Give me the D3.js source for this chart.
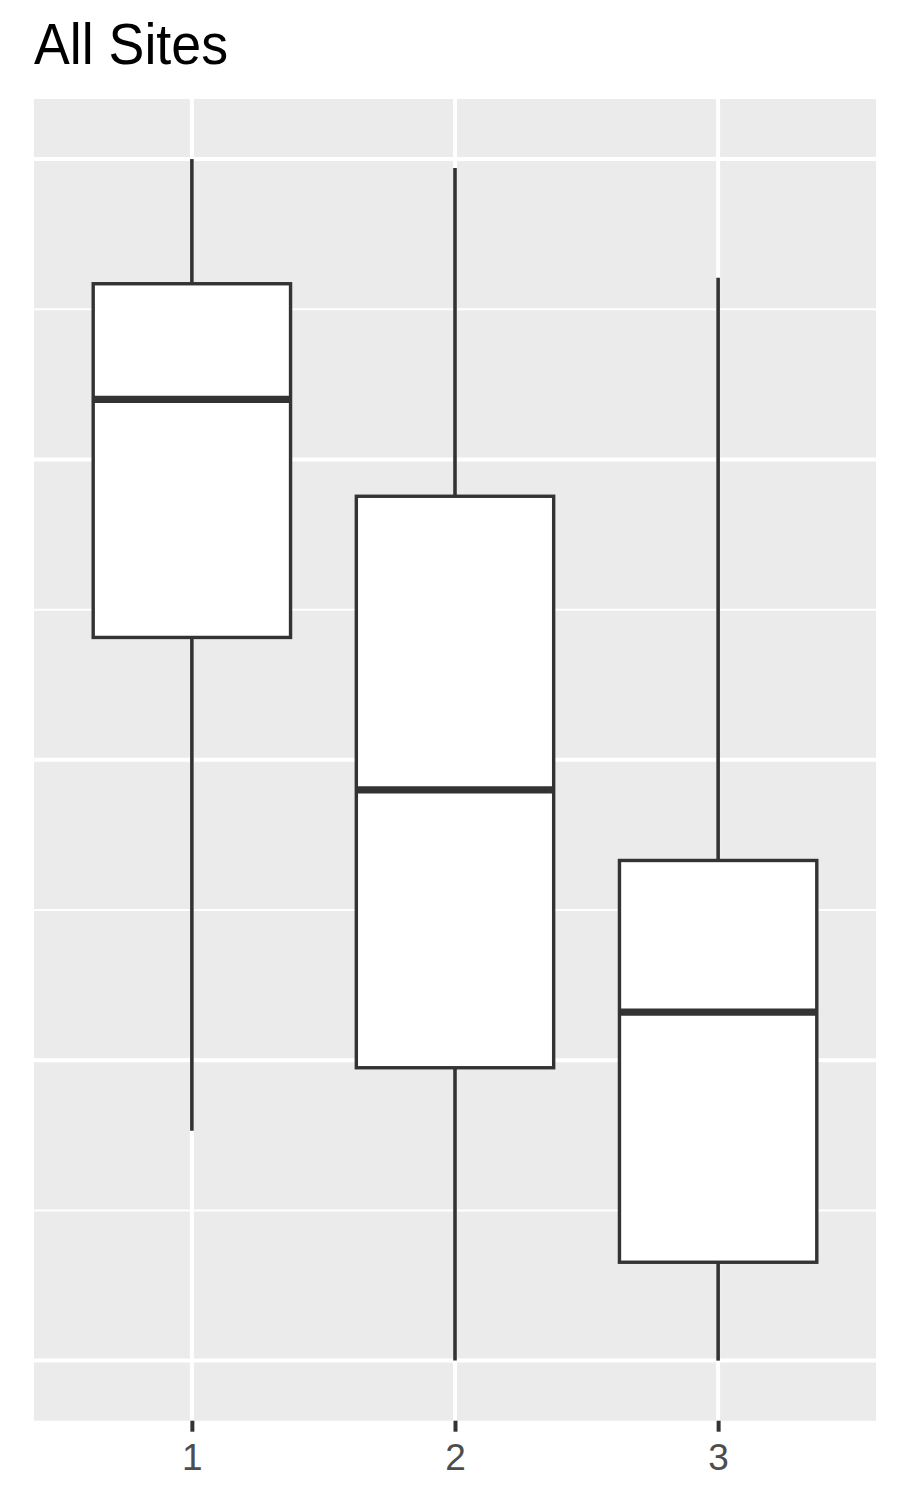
<!DOCTYPE html>
<html>
<head>
<meta charset="utf-8">
<script src="https://cdn.jsdelivr.net/npm/d3@7"></script>
<style>
  html, body { margin: 0; padding: 0; background: #ffffff; }
  svg { display: block; }
</style>
</head>
<body>
<svg id="chart" width="899" height="1499"></svg>
<script>
// ---- data ----
const categories = ["1", "2", "3"];
const whiskerLow  = [1.53, 0.00, 0.00];
const q1Values    = [4.815, 1.95, 0.655];
const medians     = [6.40, 3.80, 2.32];
const q3Values    = [7.17, 5.755, 3.33];
const whiskerHigh = [8.00, 7.94, 7.21];
const yMajorTicks = [0, 2, 4, 6, 8];
const yMinorTicks = [1, 3, 5, 7];
const title = "All Sites";

// ---- layout ----
const panel = { left: 34, right: 876, top: 99, bottom: 1420.7 };

const svg = d3.select("#chart");

// discrete x: 0.6 unit expansion on each side (ggplot default)
const unit = (panel.right - panel.left) / (categories.length - 1 + 1.2);
const x = d3.scalePoint()
  .domain(categories)
  .range([panel.left + 0.6 * unit, panel.right - 0.6 * unit]);

const y = d3.scaleLinear()
  .domain([-0.4, 8.4])
  .range([panel.bottom, panel.top]);

// panel background
svg.append("rect")
  .attr("x", panel.left).attr("y", panel.top)
  .attr("width", panel.right - panel.left)
  .attr("height", panel.bottom - panel.top)
  .attr("fill", "#EBEBEB");

// minor gridlines
svg.append("g").selectAll("line").data(yMinorTicks).join("line")
  .attr("x1", panel.left).attr("x2", panel.right)
  .attr("y1", d => y(d)).attr("y2", d => y(d))
  .attr("stroke", "#ffffff").attr("stroke-width", 2);

// major gridlines
svg.append("g").selectAll("line").data(yMajorTicks).join("line")
  .attr("x1", panel.left).attr("x2", panel.right)
  .attr("y1", d => y(d)).attr("y2", d => y(d))
  .attr("stroke", "#ffffff").attr("stroke-width", 4);

svg.append("g").selectAll("line").data(categories).join("line")
  .attr("x1", d => x(d)).attr("x2", d => x(d))
  .attr("y1", panel.top).attr("y2", panel.bottom)
  .attr("stroke", "#ffffff").attr("stroke-width", 4);

// boxes
const boxW = 0.75 * unit;
const stroke = "#333333";
const g = svg.append("g");
categories.forEach((c, i) => {
  const cx = x(c);
  g.append("line")
    .attr("x1", cx).attr("x2", cx)
    .attr("y1", y(whiskerHigh[i])).attr("y2", y(q3Values[i]))
    .attr("stroke", stroke).attr("stroke-width", 3.6);
  g.append("line")
    .attr("x1", cx).attr("x2", cx)
    .attr("y1", y(q1Values[i])).attr("y2", y(whiskerLow[i]))
    .attr("stroke", stroke).attr("stroke-width", 3.6);
  g.append("rect")
    .attr("x", cx - boxW / 2).attr("y", y(q3Values[i]))
    .attr("width", boxW).attr("height", y(q1Values[i]) - y(q3Values[i]))
    .attr("fill", "#ffffff").attr("stroke", stroke).attr("stroke-width", 3.4);
  g.append("line")
    .attr("x1", cx - boxW / 2).attr("x2", cx + boxW / 2)
    .attr("y1", y(medians[i])).attr("y2", y(medians[i]))
    .attr("stroke", stroke).attr("stroke-width", 7.3);
});

// x axis
const xAxisG = svg.append("g")
  .attr("transform", `translate(0,${panel.bottom})`);
xAxisG.call(d3.axisBottom(x).tickSize(11).tickPadding(12));
xAxisG.select(".domain").remove();
xAxisG.selectAll(".tick line").attr("stroke", "#333333").attr("stroke-width", 4);
xAxisG.selectAll(".tick text")
  .attr("fill", "#4D4D4D")
  .attr("font-family", "'Liberation Sans', Arial, sans-serif")
  .attr("font-size", 37)
  .attr("dy", "0.71em");

// title
svg.append("text")
  .attr("x", 34).attr("y", 64)
  .attr("font-family", "'Liberation Sans', Arial, sans-serif")
  .attr("font-size", 57)
  .attr("textLength", 194)
  .attr("lengthAdjust", "spacingAndGlyphs")
  .attr("fill", "#000000")
  .text(title);
</script>
</body>
</html>
